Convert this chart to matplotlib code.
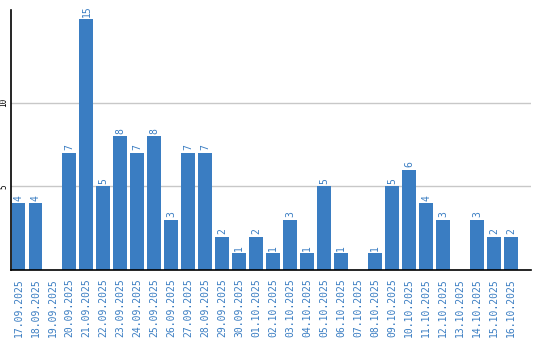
import matplotlib
matplotlib.use("Agg")
import matplotlib.pyplot as plt

# daily counts
dates = [
    "17.09.2025", "18.09.2025", "19.09.2025", "20.09.2025", "21.09.2025",
    "22.09.2025", "23.09.2025", "24.09.2025", "25.09.2025", "26.09.2025",
    "27.09.2025", "28.09.2025", "29.09.2025", "30.09.2025", "01.10.2025",
    "02.10.2025", "03.10.2025", "04.10.2025", "05.10.2025", "06.10.2025",
    "07.10.2025", "08.10.2025", "09.10.2025", "10.10.2025", "11.10.2025",
    "12.10.2025", "13.10.2025", "14.10.2025", "15.10.2025", "16.10.2025",
]
counts = [4, 4, 0, 7, 15, 5, 8, 7, 8, 3, 7, 7, 2, 1, 2,
          1, 3, 1, 5, 1, 0, 1, 5, 6, 4, 3, 0, 3, 2, 2]
y_ticks = [5, 10]

BLUE = "#3a7dc2"
MONO = "DejaVu Sans Mono"

fig = plt.figure(figsize=(5.4, 3.4), dpi=100)
ax = fig.add_axes([10.5 / 540, 1 - 270 / 340, 520 / 540, 260 / 340])

x = list(range(len(dates)))
ax.bar(x, counts, width=0.82, color=BLUE, zorder=2)

for xi, v in zip(x, counts):
    if v > 0:
        ax.text(xi, v + 0.15, str(v), rotation=90, ha="center", va="bottom",
                color=BLUE, fontsize=7, family=MONO)

ax.set_xlim(-0.47, len(dates) - 1 + 1.15)
ax.set_ylim(0, 15.54)

ax.set_yticks(y_ticks)
ax.set_yticklabels([str(t) for t in y_ticks], rotation=90, va="center",
                   fontsize=5.5, family=MONO)
ax.yaxis.grid(True, color="#c8c8c8", linewidth=1, zorder=0)
ax.tick_params(axis="y", length=0, pad=1.5)

ax.set_xticks(x)
ax.set_xticklabels(dates, rotation=90, fontsize=7, family=MONO, color=BLUE)
ax.tick_params(axis="x", length=0, pad=6)

for side in ("top", "right"):
    ax.spines[side].set_visible(False)
ax.spines["left"].set_linewidth(1.2)
ax.spines["bottom"].set_linewidth(1.2)
ax.set_axisbelow(True)

fig.savefig("out.png", dpi=100)
